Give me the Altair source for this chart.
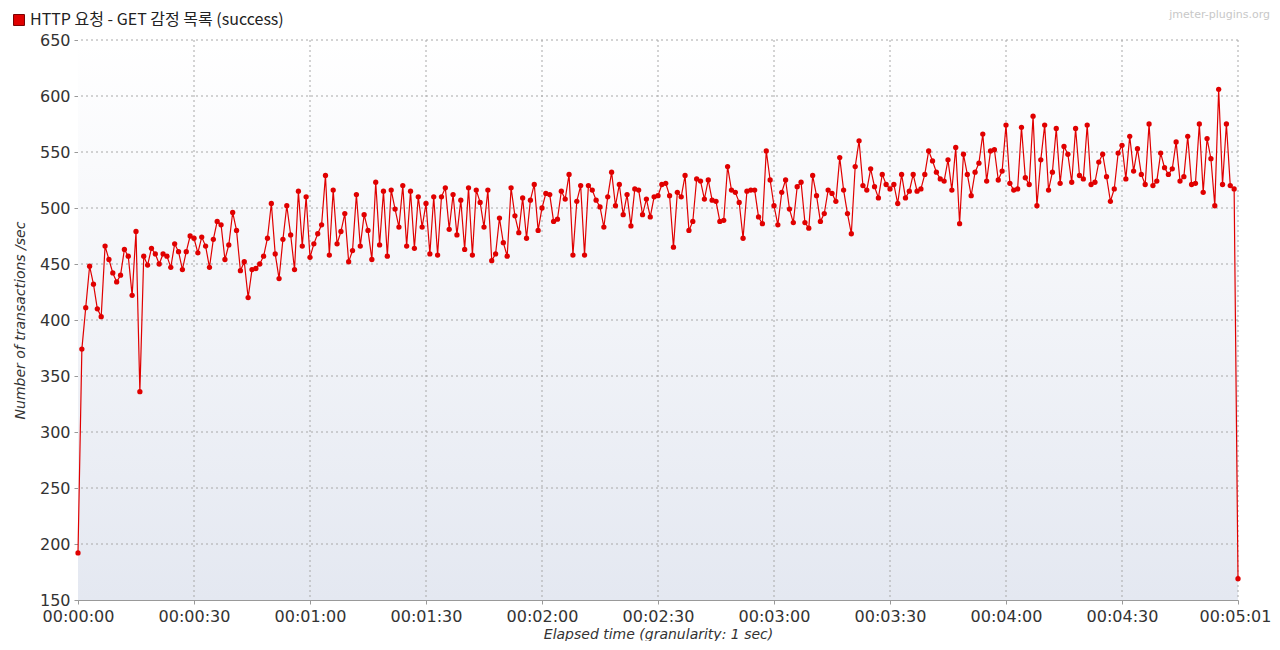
import altair as alt
import pandas as pd

# Transactions per second, one value per elapsed second
values = [
    192, 374, 411, 448, 432, 410, 403, 466, 454, 442,
    434, 440, 463, 457, 422, 479, 336, 457, 449, 464,
    459, 450, 459, 457, 447, 468, 461, 445, 461, 475,
    473, 460, 474, 466, 447, 472, 488, 485, 454, 467,
    496, 480, 444, 452, 420, 445, 446, 450, 457, 473,
    504, 459, 437, 472, 502, 476, 445, 515, 466, 510,
    456, 468, 477, 485, 529, 458, 516, 468, 479, 495,
    452, 462, 512, 466, 494, 480, 454, 523, 467, 515,
    457, 516, 499, 483, 520, 466, 515, 464, 510, 483,
    504, 459, 510, 458, 510, 518, 481, 512, 476, 507,
    463, 518, 458, 516, 505, 483, 516, 453, 459, 491,
    469, 457, 518, 493, 478, 509, 473, 507, 521, 480,
    500, 513, 512, 488, 490, 515, 508, 530, 458, 506,
    520, 458, 520, 516, 507, 501, 483, 510, 532, 502,
    521, 494, 512, 484, 517, 516, 494, 508, 492, 510,
    511, 521, 522, 511, 465, 514, 510, 529, 480, 488,
    526, 524, 508, 525, 507, 506, 488, 489, 537, 516,
    514, 505, 473, 515, 516, 516, 492, 486, 551, 525,
    502, 485, 514, 525, 499, 487, 519, 523, 487, 482,
    529, 511, 488, 495, 516, 513, 506, 545, 516, 495,
    477, 537, 560, 520, 516, 535, 519, 509, 530, 521,
    517, 521, 504, 530, 509, 515, 530, 515, 517, 530,
    551, 542, 532, 526, 524, 543, 516, 554, 486, 548,
    530, 511, 532, 540, 566, 524, 551, 552, 525, 533,
    574, 522, 516, 517, 572, 527, 521, 582, 502, 543,
    574, 516, 532, 571, 522, 555, 548, 523, 571, 529,
    526, 574, 521, 523, 541, 548, 528, 506, 517, 549,
    556, 526, 564, 533, 553, 530, 521, 575, 520, 524,
    549, 536, 530, 535, 559, 524, 528, 564, 521, 522,
    575, 514, 562, 544, 502, 606, 521, 575, 520, 517,
    169,
]
seconds = list(range(len(values)))

tick_seconds = [0, 30, 60, 90, 120, 150, 180, 210, 240, 270, 300]
tick_labels = ["00:00:00", "00:00:30", "00:01:00", "00:01:30", "00:02:00",
               "00:02:30", "00:03:00", "00:03:30", "00:04:00", "00:04:30",
               "00:05:01"]
y_ticks = [150, 200, 250, 300, 350, 400, 450, 500, 550, 600, 650]

series_name = "HTTP 요청 - GET 감정 목록 (success)"
watermark = "jmeter-plugins.org"
x_title = "Elapsed time (granularity: 1 sec)"
y_title = "Number of transactions /sec"

df = pd.DataFrame({"t": seconds, "v": values, "series": series_name})
one = pd.DataFrame({"a": [0]})
xgrid_df = pd.DataFrame({"t": tick_seconds[1:]})
ygrid_df = pd.DataFrame({"v": y_ticks[1:]})

W, H = 1160, 560
FONT = "DejaVu Sans"
RED = "#e00000"
GRID = "#a8a8a8"

label_expr = "[" + ",".join(f"'{s}'" for s in tick_labels) + "][round(datum.value/30)]"

x_scale = alt.Scale(domain=[0, 300], nice=False, zero=False)
y_scale = alt.Scale(domain=[150, 650], nice=False, zero=False)

x_enc = alt.X(
    "t:Q", scale=x_scale,
    axis=alt.Axis(values=tick_seconds, labelExpr=label_expr, title=x_title,
                  labelFlush=False, labelOverlap=False, grid=False,
                  labelOffset={"condition": {"test": "datum.value == 300", "value": -3},
                               "value": 0}),
)
y_enc = alt.Y(
    "v:Q", scale=y_scale,
    axis=alt.Axis(values=y_ticks, title=y_title, grid=False),
)

bg = alt.Chart(one).mark_rect(
    color=alt.Gradient(
        gradient="linear",
        stops=[alt.GradientStop(color="#ffffff", offset=0),
               alt.GradientStop(color="#e4e8f1", offset=1)],
        x1=0, x2=0, y1=0, y2=1,
    )
).encode(x=alt.value(0), x2=alt.value(W), y=alt.value(0), y2=alt.value(H))

xgrid = alt.Chart(xgrid_df).mark_rule(color=GRID, strokeDash=[2, 3], strokeWidth=1).encode(
    x=x_enc)
ygrid = alt.Chart(ygrid_df).mark_rule(color=GRID, strokeDash=[2, 3], strokeWidth=1).encode(
    y=y_enc)

line = alt.Chart(df).mark_line(color=RED, strokeWidth=1.2).encode(x=x_enc, y=y_enc)

points = alt.Chart(df).mark_point(filled=True, size=28, opacity=1).encode(
    x=x_enc,
    y=y_enc,
    color=alt.Color(
        "series:N",
        scale=alt.Scale(range=[RED]),
        legend=alt.Legend(
            title=None, orient="none", legendX=-67, legendY=-28,
            symbolType="square", symbolSize=120, labelFontSize=16,
            labelFont="Noto Sans CJK KR", labelColor="#222222", labelOffset=3,
            labelLimit=0, padding=0,
            symbolStrokeColor="#7a0000", symbolStrokeWidth=1,
        ),
    ),
)

wm = alt.Chart(one).mark_text(
    text=watermark, align="right", baseline="middle", color="#c8c8c8",
    fontSize=11, font=FONT,
).encode(x=alt.value(W + 32), y=alt.value(-25))

chart = alt.layer(bg, xgrid, ygrid, line, points, wm).properties(
    width=W, height=H,
    padding={"left": 70, "top": 32, "right": 33, "bottom": 41},
    autosize="none",
).configure_view(strokeWidth=0).configure_axis(
    labelFont=FONT, labelFontSize=16, labelColor="#333333",
    titleFont=FONT, titleFontSize=14, titleFontStyle="italic", titleColor="#333333",
    titleFontWeight="normal",
    domainColor="#999999", tickColor="#999999", tickSize=4,
    labelPadding=4,
).configure_axisY(titlePadding=12).configure_axisX(titlePadding=3)

chart.save("out.html", embed_options={"renderer": "svg", "actions": False})
